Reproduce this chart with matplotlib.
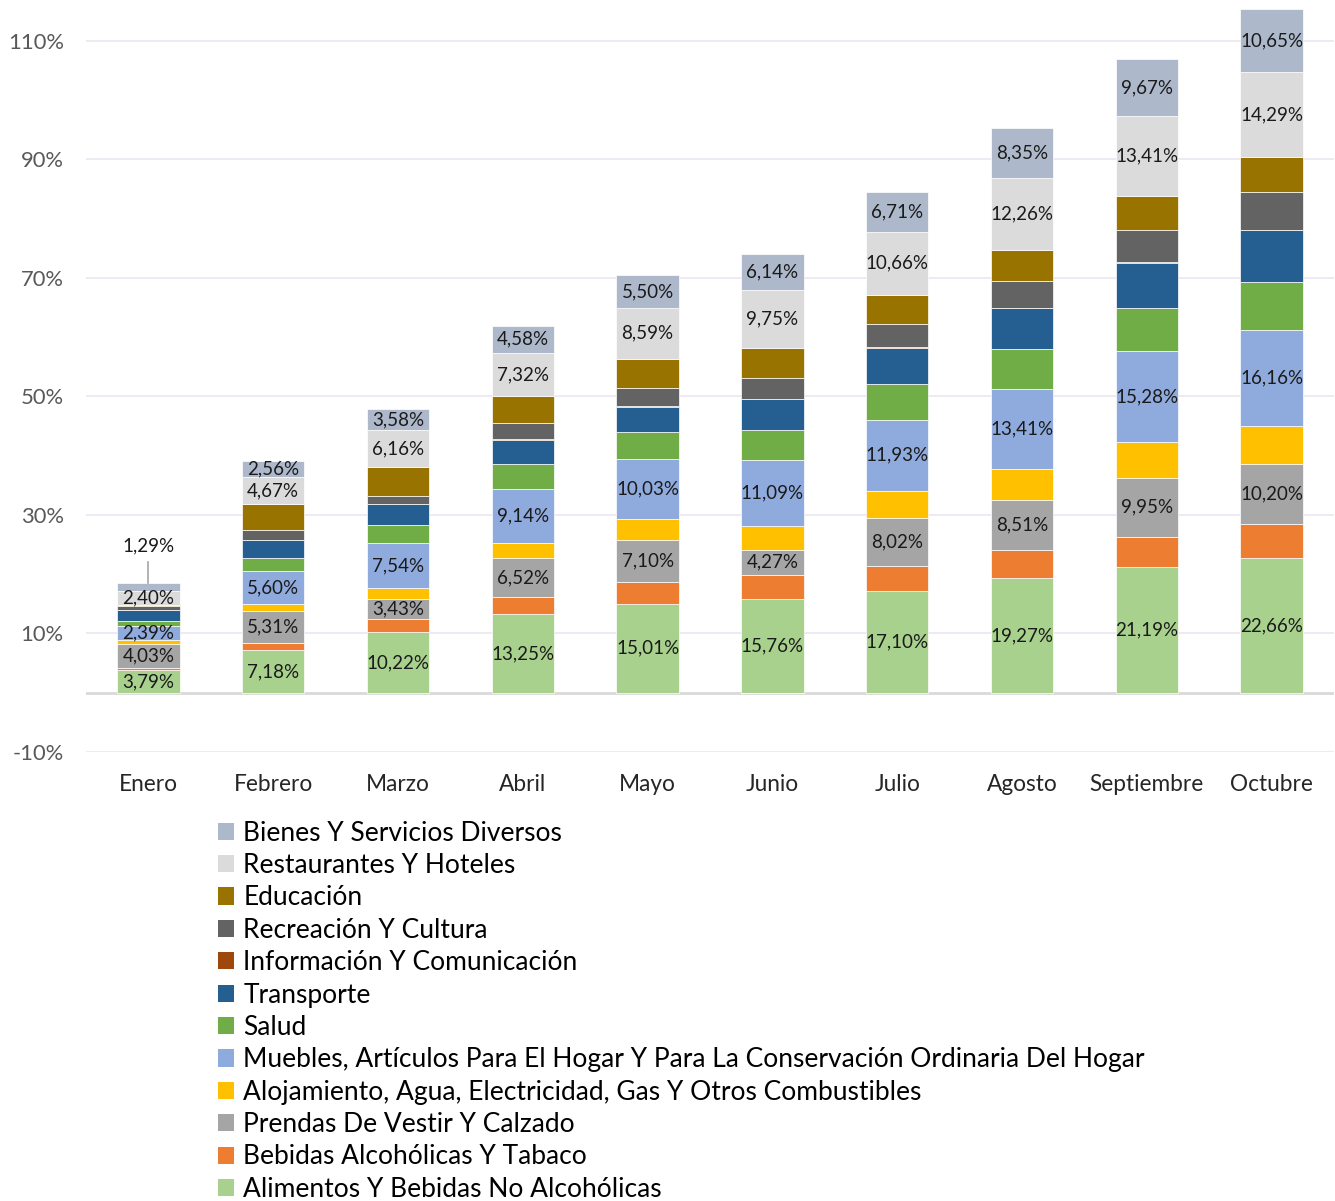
import numpy as np
import matplotlib.pyplot as plt
from matplotlib.patches import Patch

plt.rcParams['font.family'] = ['Lato', 'DejaVu Sans']

meses = ['Enero', 'Febrero', 'Marzo', 'Abril', 'Mayo', 'Junio',
         'Julio', 'Agosto', 'Septiembre', 'Octubre']

# stacking order: bottom -> top
alimentos = [3.79, 7.18, 10.22, 13.25, 15.01, 15.76, 17.10, 19.27, 21.19, 22.66]
bebidas = [0.42, 1.25, 2.15, 2.91, 3.69, 4.10, 4.30, 4.73, 5.11, 5.74]
prendas = [4.03, 5.31, 3.43, 6.52, 7.10, 4.27, 8.02, 8.51, 9.95, 10.20]
alojamiento = [0.58, 1.16, 1.90, 2.62, 3.53, 4.07, 4.68, 5.29, 6.05, 6.40]
muebles = [2.39, 5.60, 7.54, 9.14, 10.03, 11.09, 11.93, 13.41, 15.28, 16.16]
salud = [0.87, 2.20, 3.12, 4.16, 4.59, 5.05, 6.07, 6.79, 7.26, 8.04]
transporte = [1.91, 3.10, 3.39, 4.10, 4.31, 5.16, 6.12, 6.95, 7.66, 8.80]
informacion = [0.02, 0.02, 0.02, 0.02, 0.02, -0.12, 0.02, 0.02, 0.08, 0.08]
recreacion = [0.60, 1.56, 1.41, 2.70, 3.08, 3.53, 3.93, 4.55, 5.40, 6.34]
educacion = [0.13, 4.41, 4.90, 4.60, 4.97, 5.08, 4.95, 5.09, 5.87, 5.97]
restaurantes = [2.40, 4.67, 6.16, 7.32, 8.59, 9.75, 10.66, 12.26, 13.41, 14.29]
bienes = [1.29, 2.56, 3.58, 4.58, 5.50, 6.14, 6.71, 8.35, 9.67, 10.65]

series = [
    ('Alimentos Y Bebidas No Alcohólicas', alimentos, '#A9D18E', True),
    ('Bebidas Alcohólicas Y Tabaco', bebidas, '#ED7D31', False),
    ('Prendas De Vestir Y Calzado', prendas, '#A5A5A5', True),
    ('Alojamiento, Agua, Electricidad, Gas Y Otros Combustibles', alojamiento, '#FFC000', False),
    ('Muebles, Artículos Para El Hogar Y Para La Conservación Ordinaria Del Hogar', muebles, '#8FAADC', True),
    ('Salud', salud, '#70AD47', False),
    ('Transporte', transporte, '#255E91', False),
    ('Información Y Comunicación', informacion, '#9E480E', False),
    ('Recreación Y Cultura', recreacion, '#636363', False),
    ('Educación', educacion, '#997300', False),
    ('Restaurantes Y Hoteles', restaurantes, '#DBDBDB', True),
    ('Bienes Y Servicios Diversos', bienes, '#ADB9CA', True),
]

fig = plt.figure(figsize=(13.35, 12.01), dpi=100)
ax = fig.add_axes([86 / 1335, 1 - 752 / 1201, 1248 / 1335, 744 / 1201])

x = np.arange(len(meses))
pos = np.zeros(len(meses))
neg = np.zeros(len(meses))
handles = []
for name, vals, color, show in series:
    v = np.array(vals)
    bottom = np.where(v >= 0, pos, neg)
    ax.bar(x, v, 0.5, bottom=bottom, color=color, edgecolor='white', linewidth=0.5, zorder=3)
    if show:
        for i in range(len(meses)):
            txt = f'{vals[i]:.2f}%'.replace('.', ',')
            if name.startswith('Bienes') and i == 0:
                top = bottom[i] + v[i]
                ax.text(x[i], 24.85, txt, ha='center', va='center', fontsize=13.5, color='#1a1a1a', zorder=5)
                ax.plot([x[i], x[i]], [top, 22.0], color='#A6A6A6', lw=1.2, zorder=4)
            else:
                ax.text(x[i], bottom[i] + v[i] / 2, txt, ha='center', va='center',
                        fontsize=13.5, color='#1a1a1a', zorder=5)
    pos = np.where(v >= 0, pos + v, pos)
    neg = np.where(v < 0, neg + v, neg)
    handles.append(Patch(facecolor=color, label=name))

ax.set_xlim(-0.5, 9.5)
ax.set_ylim(-10, 115.5)
ax.set_yticks(np.arange(-10, 111, 20))
ax.set_yticklabels([f'{t}%' for t in range(-10, 111, 20)], fontsize=15.8, color='#595959')
ax.set_xticks(x)
ax.set_xticklabels(meses, fontsize=16.3, color='#262626')
ax.tick_params(axis='both', length=0)
ax.tick_params(axis='y', pad=16)
ax.tick_params(axis='x', pad=16)
ax.grid(axis='y', color='#EDE7F2', lw=1.3, zorder=0)
ax.axhline(0, color='#D9D9D9', lw=2, zorder=2)
for s in ax.spines.values():
    s.set_visible(False)

fig.legend(handles=handles[::-1], loc='upper left', bbox_to_anchor=(207 / 1335, 1 - 810 / 1201),
           frameon=False, fontsize=19, handlelength=0.62, handleheight=0.62,
           handletextpad=0.36, labelspacing=0.28, borderaxespad=0)

fig.savefig('out.png', dpi=100)
